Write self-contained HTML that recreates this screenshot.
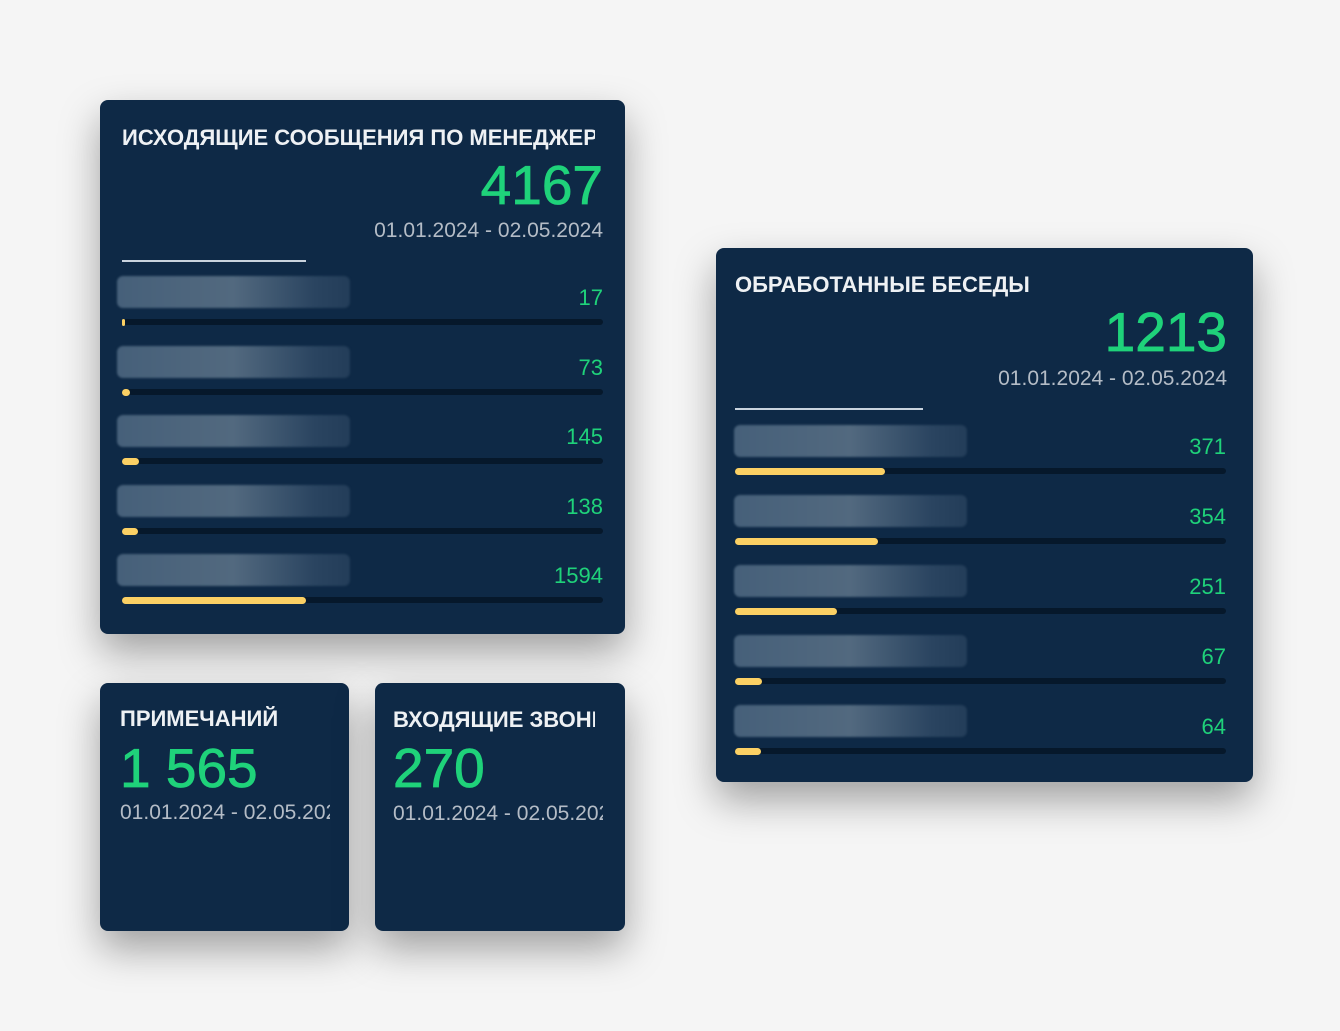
<!DOCTYPE html>
<html><head><meta charset="utf-8">
<style>
body{margin:0;width:1340px;height:1031px;background:#f5f5f5;position:relative;overflow:hidden;font-family:"Liberation Sans","DejaVu Sans",sans-serif}
.card{position:absolute;background:#0e2946;border-radius:8px;box-shadow:0 18px 40px rgba(0,0,0,0.35);overflow:hidden}
.t{position:absolute;color:#eef1f4;font-weight:bold;font-size:22px;white-space:nowrap;letter-spacing:0px;transform-origin:left top}
.big{position:absolute;color:#1fd27a;font-size:55px;line-height:54px;white-space:nowrap;-webkit-text-stroke:0.8px #1fd27a}
.dt{position:absolute;color:#b4bcc6;font-size:21px;line-height:24px;white-space:nowrap}
.ul{position:absolute;height:2px;background:#c9d3de}
.blur{position:absolute;border-radius:6px;background:linear-gradient(90deg,#46607a,#52697f 50%,#2a4460 85%,#233d59);filter:blur(1px)}
.val{position:absolute;color:#1fd27a;font-size:22px;text-align:right;width:100px}
.track{position:absolute;height:6px;border-radius:3px;background:#06182b}
.bar{position:absolute;height:7px;border-radius:4px;background:#fbd064}
</style></head><body>
<div class="card" style="left:100px;top:100px;width:525px;height:534px">
  <div class="t" style="left:22px;top:25px;width:473px;overflow:hidden">ИСХОДЯЩИЕ СООБЩЕНИЯ ПО МЕНЕДЖЕРАМ</div>
  <div class="big" style="right:22px;top:58px">4167</div>
  <div class="dt" style="right:22px;top:119px">01.01.2024 - 02.05.2024</div>
  <div class="ul" style="left:22px;top:160px;width:184px"></div>
  <div id="rowsA"></div>
</div>
<div class="card" style="left:716px;top:248px;width:537px;height:534px">
  <div class="t" style="left:19px;top:24px">ОБРАБОТАННЫЕ БЕСЕДЫ</div>
  <div class="big" style="right:26px;top:57px">1213</div>
  <div class="dt" style="right:26px;top:119px">01.01.2024 - 02.05.2024</div>
  <div class="ul" style="left:19px;top:160px;width:188px"></div>
  <div id="rowsB"></div>
</div>
<div class="card" style="left:100px;top:683px;width:249px;height:248px">
  <div class="t" style="left:20px;top:23px;width:220px;overflow:hidden">ПРИМЕЧАНИЙ</div>
  <div class="big" style="left:20px;top:58px">1 565</div>
  <div class="dt" style="left:20px;top:118px;width:210px;overflow:hidden">01.01.2024 - 02.05.2024</div>
</div>
<div class="card" style="left:375px;top:683px;width:250px;height:248px">
  <div class="t" style="left:18px;top:24px;width:202px;overflow:hidden">ВХОДЯЩИЕ ЗВОНКИ</div>
  <div class="big" style="left:18px;top:58px">270</div>
  <div class="dt" style="left:18px;top:119px;width:210px;overflow:hidden">01.01.2024 - 02.05.2024</div>
</div>
<script>
const valuesA=[17,73,145,138,1594];
const totalA=4167;
const valuesB=[371,354,251,67,64];
const totalB=1213;
function rows(id,vals,total,cfg){
  const host=document.getElementById(id);
  vals.forEach((v,i)=>{
    const y=cfg.y0+i*cfg.step;
    const b=document.createElement('div');b.className='blur';
    
    
    b.style.cssText=`left:${cfg.bx}px;top:${y}px;width:${cfg.bw}px;height:32px`;host.appendChild(b);
    const t=document.createElement('div');t.className='val';t.textContent=v;
    
    
    t.style.cssText=`left:${cfg.tx+cfg.tw-100}px;top:${y+9}px`;host.appendChild(t);
    const tr=document.createElement('div');tr.className='track';
    
    
    tr.style.cssText=`left:${cfg.tx}px;top:${y+43}px;width:${cfg.tw}px`;host.appendChild(tr);
    const br=document.createElement('div');br.className='bar';
    
    
    br.style.cssText=`left:${cfg.tx}px;top:${y+43}px;width:${Math.max(3,v/total*cfg.tw)}px`;host.appendChild(br);
  });
}
rows('rowsA',valuesA,totalA,{y0:176,step:69.5,bx:17,bw:233,tx:22,tw:481});
rows('rowsB',valuesB,totalB,{y0:177,step:70,bx:18,bw:233,tx:19,tw:491});
</script>
</body></html>
